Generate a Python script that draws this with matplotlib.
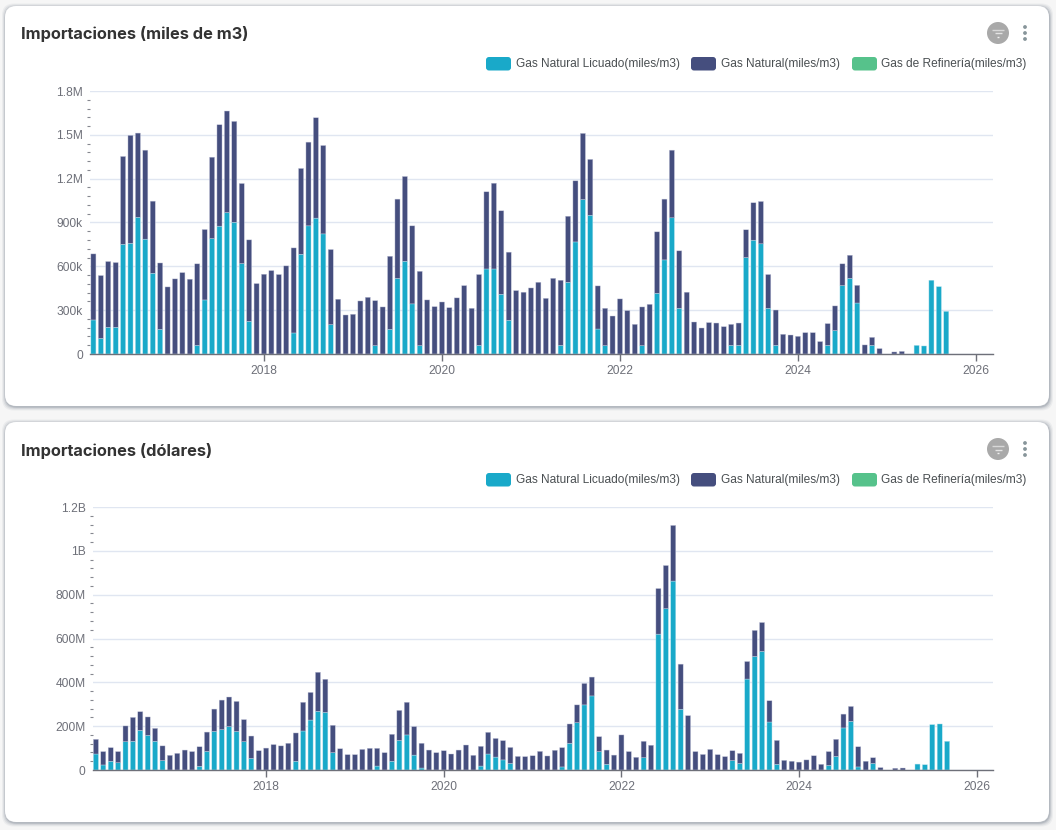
import numpy as np
import matplotlib
matplotlib.use("Agg")
import matplotlib.pyplot as plt
from matplotlib.patches import FancyBboxPatch, Circle
from matplotlib.ticker import FuncFormatter, MultipleLocator

# monthly values, Feb 2016 to Sep 2025
m3_total = [685, 537, 633, 626, 1352, 1496, 1512, 1395, 1046, 623, 459,
            514, 557, 512, 617, 852, 1347, 1569, 1663, 1592, 1167, 781, 482,
            546, 571, 544, 603, 726, 1270, 1450, 1617, 1427, 715, 375, 267,
            272, 363, 388, 365, 322, 669, 1060, 1215, 877, 566, 370, 324,
            356, 317, 384, 468, 313, 544, 1110, 1169, 980, 697, 434, 423,
            452, 491, 381, 518, 505, 943, 1185, 1510, 1332, 466, 313, 260,
            377, 297, 203, 322, 340, 836, 1060, 1395, 706, 423, 219, 178,
            215, 212, 187, 203, 212, 850, 1035, 1044, 544, 301, 135, 130,
            121, 146, 146, 85, 208, 329, 617, 676, 470, 62, 114, 37,
            0, 14, 18, 0, 59, 55, 505, 461, 292]
m3_lng = [233, 107, 183, 183, 751, 758, 936, 786, 553, 169, 0,
          0, 0, 0, 59, 370, 790, 875, 968, 902, 619, 224, 0,
          0, 0, 0, 0, 144, 683, 877, 930, 822, 201, 0, 0,
          0, 0, 0, 57, 0, 169, 518, 635, 343, 57, 0, 0,
          0, 0, 0, 0, 0, 59, 582, 582, 409, 231, 0, 0,
          0, 0, 0, 0, 59, 491, 767, 1057, 950, 171, 57, 0,
          0, 0, 0, 57, 0, 416, 644, 932, 313, 0, 0, 0,
          0, 0, 0, 59, 59, 660, 779, 754, 313, 59, 0, 0,
          0, 0, 0, 0, 59, 160, 468, 518, 349, 0, 59, 0,
          0, 0, 0, 0, 59, 55, 505, 461, 292]
usd_total = [140, 84, 102, 84, 201, 240, 266, 242, 190, 110, 67,
             76, 91, 84, 106, 173, 278, 319, 333, 313, 230, 155, 88,
             100, 116, 110, 122, 169, 309, 354, 446, 414, 204, 97, 70,
             70, 94, 99, 99, 79, 163, 272, 309, 198, 122, 91, 79,
             88, 73, 91, 114, 67, 108, 172, 144, 134, 103, 62, 61,
             65, 85, 64, 90, 102, 210, 297, 395, 424, 152, 91, 68,
             160, 84, 58, 131, 113, 828, 933, 1116, 483, 248, 84, 71,
             94, 70, 61, 88, 76, 495, 637, 673, 316, 135, 44, 40,
             36, 46, 65, 26, 84, 140, 255, 290, 106, 40, 56, 11,
             0, 8, 9, 0, 27, 24, 207, 210, 131]
usd_lng = [73, 23, 40, 33, 129, 131, 181, 158, 131, 43, 0,
           0, 0, 0, 17, 85, 176, 184, 198, 176, 129, 53, 0,
           0, 0, 0, 0, 40, 178, 228, 268, 263, 79, 0, 0,
           0, 0, 0, 18, 0, 40, 135, 160, 68, 9, 0, 0,
           0, 0, 0, 0, 0, 18, 73, 59, 46, 30, 0, 0,
           0, 0, 0, 0, 14, 122, 216, 297, 338, 84, 26, 0,
           0, 0, 0, 56, 0, 620, 736, 862, 277, 0, 0, 0,
           0, 0, 0, 43, 30, 415, 518, 541, 219, 26, 0, 0,
           0, 0, 0, 0, 21, 62, 192, 222, 14, 0, 30, 0,
           0, 0, 0, 0, 27, 24, 207, 210, 131]

year_labels = ["2018", "2020", "2022", "2024", "2026"]
year_months = [23, 47, 71, 95, 119]  # months counted from Feb 2016
legend_labels = ["Gas Natural Licuado(miles/m3)", "Gas Natural(miles/m3)", "Gas de Refinería(miles/m3)"]
colors = ["#19a9c9", "#454e7e", "#56c28b"]

W, H = 1056, 830
TEXT = ["Liberation Sans", "DejaVu Sans"]
GREY = "#6e7079"

fig = plt.figure(figsize=(W / 100, H / 100), dpi=100, facecolor="#f6f6f6")

# page layer in pixel coordinates: cards, titles, legends, icons
page = fig.add_axes([0, 0, 1, 1], zorder=0)
page.set_xlim(0, W)
page.set_ylim(H, 0)
page.axis("off")


def draw_card(top, title):
    for grow, alpha in [(3.5, 0.07), (2.5, 0.10), (1.5, 0.14), (0.7, 0.2)]:
        page.add_patch(FancyBboxPatch((5 - grow + 0.5, top - grow + 1), 1044 + 2 * grow, 400 + 2 * grow,
                                      boxstyle="round,pad=0,rounding_size=12", fc="#5f6b7a", ec="none", alpha=alpha))
    page.add_patch(FancyBboxPatch((5, top), 1044, 400, boxstyle="round,pad=0,rounding_size=11",
                                  fc="white", ec="none"))
    page.text(21, top + 28.5, title, fontsize=11.8, fontweight="bold", color="#333333",
              family=["Inter", "DejaVu Sans"], va="center", ha="left")

    # legend, only the first two series have data
    for x, tx, color, label in zip([486, 691, 852], [516, 721, 881], colors, legend_labels):
        page.add_patch(FancyBboxPatch((x, top + 51), 25, 13.5, boxstyle="round,pad=0,rounding_size=3",
                                      fc=color, ec="none"))
        page.text(tx, top + 57.5, label, fontsize=8.6, color="#4a4f52", family=TEXT, va="center", ha="left")

    # filter button and menu dots
    page.add_patch(Circle((998, top + 27), 11, fc="#a9a9a9", ec="none"))
    page.plot([992, 1004], [top + 24, top + 24], color="#d8d8d8", lw=1, solid_capstyle="butt")
    page.plot([994.5, 1001.5], [top + 27.5, top + 27.5], color="#e4e4e4", lw=1, solid_capstyle="butt")
    page.plot([997, 999], [top + 31, top + 31], color="#f0f0f0", lw=1, solid_capstyle="butt")
    for dy in [-6, 0, 6]:
        page.add_patch(Circle((1025, top + 27 + dy), 1.9, fc="#87959a", ec="none"))


def draw_bars(left, right, top, bottom, xlim, total, lng, scale, ymax, step, fmt):
    ax = fig.add_axes([left / W, 1 - bottom / H, (right - left) / W, (bottom - top) / H], zorder=1)
    ax.patch.set_alpha(0)
    months = np.arange(len(total))
    lng = np.array(lng) * scale
    natural = np.array(total) * scale - lng

    keep = lng > 0
    low = ax.bar(months[keep], lng[keep], width=0.68, color=colors[0], edgecolor="#b5e3ee", linewidth=0.3, zorder=3)
    keep = natural > 0
    up = ax.bar(months[keep], natural[keep], bottom=lng[keep], width=0.68, color=colors[1], edgecolor="#c3c6da",
                linewidth=0.3, zorder=3)
    for bar in list(low) + list(up):
        bar.set_snap(False)

    ax.set_xlim(*xlim)
    ax.set_ylim(0, ymax)
    for name in ["top", "left", "right"]:
        ax.spines[name].set_visible(False)
    ax.spines["bottom"].set_color(GREY)
    ax.spines["bottom"].set_linewidth(1)
    ax.spines["bottom"].set_zorder(4)

    ax.set_xticks(year_months)
    ax.set_xticklabels(year_labels)
    ax.tick_params(axis="x", length=5, width=1, color=GREY, labelcolor=GREY, labelsize=8.65, pad=3)
    ax.yaxis.set_major_locator(MultipleLocator(step))
    ax.yaxis.set_minor_locator(MultipleLocator(step / 5))
    ax.yaxis.set_major_formatter(FuncFormatter(fmt))
    ax.tick_params(axis="y", which="major", length=0, labelcolor=GREY, labelsize=8.65, pad=5)
    ax.tick_params(axis="y", which="minor", length=2, width=0.8, color="#85878f")
    ax.grid(axis="y", color="#e0e6f1", linewidth=1, zorder=0)
    ax.set_axisbelow(True)
    for lab in ax.get_xticklabels() + ax.get_yticklabels():
        lab.set_family(TEXT)
    return ax


def fmt_m3(v, pos):
    if v == 0:
        return "0"
    if v >= 1e6:
        return f"{v / 1e6:.1f}M"
    return f"{v / 1e3:.0f}k"


def fmt_usd(v, pos):
    if v == 0:
        return "0"
    if v >= 1e9:
        return f"{v / 1e9:g}B"
    return f"{v / 1e6:.0f}M"


draw_card(6, "Importaciones (miles de m3)")
draw_card(422, "Importaciones (dólares)")

draw_bars(90, 993, 91, 354, (-0.46, 121.3), m3_total, m3_lng, 1e3, 1.8e6, 3e5, fmt_m3)
draw_bars(92.5, 993, 507, 770, (-0.46, 121.2), usd_total, usd_lng, 1e6, 1.2e9, 2e8, fmt_usd)

fig.savefig("out.png", dpi=100, facecolor=fig.get_facecolor())
